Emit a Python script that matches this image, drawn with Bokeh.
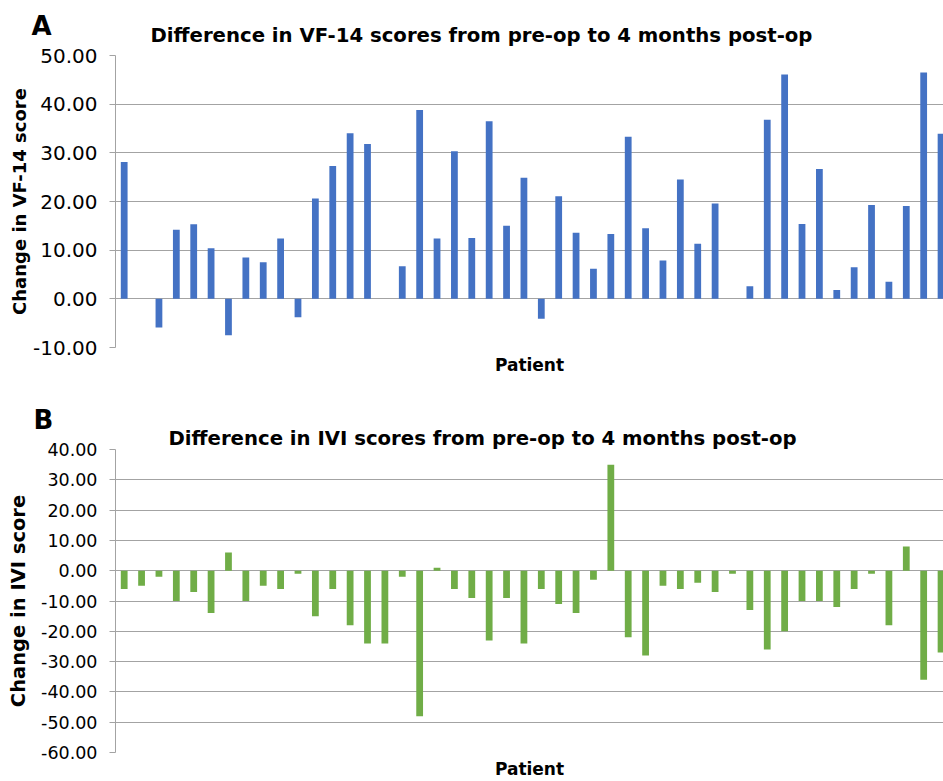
from bokeh.plotting import figure
from bokeh.models import Range1d, FixedTicker, PrintfTickFormatter, Label
from bokeh.layouts import column
from bokeh.embed import file_html
from bokeh.resources import INLINE

nan = float("nan")

# ---- data -------------------------------------------------------------
patients = list(range(1, 49))
vf14_change = [28.1, nan, -5.9, 14.2, 15.3, 10.4, -7.5, 8.5, 7.5, 12.4,
               -3.8, 20.6, 27.3, 34.0, 31.8, nan, 6.7, 38.8, 12.4, 30.3,
               12.5, 36.5, 15.0, 24.9, -4.1, 21.1, 13.6, 6.2, 13.3, 33.3,
               14.5, 7.9, 24.5, 11.3, 19.6, nan, 2.6, 36.8, 46.1, 15.4,
               26.7, 1.8, 6.5, 19.3, 3.5, 19.1, 46.5, 33.9]
ivi_change = [-6, -5, -2, -10, -7, -14, 6, -10, -5, -6,
              -1, -15, -6, -18, -24, -24, -2, -48, 1, -6,
              -9, -23, -9, -24, -6, -11, -14, -3, 35, -22,
              -28, -5, -6, -4, -7, -1, -13, -26, -20, -10,
              -10, -12, -6, -1, -18, 8, -36, -27]
vf14_ticks = [-10, 0, 10, 20, 30, 40, 50]
ivi_ticks = [-60, -50, -40, -30, -20, -10, 0, 10, 20, 30, 40]
title_a = "Difference in VF-14 scores from pre-op to 4 months post-op"
title_b = "Difference in IVI scores from pre-op to 4 months post-op"
ylabel_a = "Change in VF-14 score"
ylabel_b = "Change in IVI score"
xlabel = "Patient"

FONT = "DejaVu Sans"
GRID = "#a3a3a3"

# ---- geometry (pixels) -----------------------------------------------
W = 943
LEFT = 115
FRAME_W = W - LEFT
CAT_PX = 17.38
X_END = FRAME_W / CAT_PX


def make_panel(values, ticks, color, fig_top, height, top, frame_h, tick_fs,
               ylabel, ylabel_fs, ylab_standoff, xlab_standoff, title, letter,
               title_px, title_base, letter_px, letter_base):
    y0, y1 = ticks[0], ticks[-1]
    p = figure(width=W, height=height, output_backend="svg",
               toolbar_location=None, x_range=Range1d(0, X_END),
               y_range=Range1d(y0, y1),
               min_border_left=LEFT, min_border_right=0,
               min_border_top=top, min_border_bottom=height - top - frame_h)
    p.outline_line_color = None
    p.background_fill_color = "white"
    p.border_fill_color = "white"
    xs = [i - 0.5 for i in patients]
    p.vbar(x=xs, top=values, bottom=0, width=0.39, fill_color=color,
           line_color=None)

    p.xgrid.grid_line_color = None
    p.ygrid.grid_line_color = GRID
    p.ygrid.grid_line_width = 1

    ya = p.yaxis[0]
    ya.ticker = FixedTicker(ticks=ticks)
    ya.formatter = PrintfTickFormatter(format="%.2f")
    ya.axis_line_color = GRID
    ya.major_tick_line_color = GRID
    ya.major_tick_out = 6
    ya.major_tick_in = 0
    ya.minor_tick_line_color = None
    ya.major_label_standoff = 12
    ya.major_label_text_font = FONT
    ya.major_label_text_font_size = tick_fs
    ya.major_label_text_color = "black"
    ya.axis_label = ylabel
    ya.axis_label_text_font = FONT
    ya.axis_label_text_font_style = "bold"
    ya.axis_label_text_font_size = ylabel_fs
    ya.axis_label_text_color = "black"
    ya.axis_label_standoff = ylab_standoff

    xa = p.xaxis[0]
    xa.ticker = FixedTicker(ticks=[])
    xa.axis_line_color = None
    xa.major_tick_line_color = None
    xa.minor_tick_line_color = None
    xa.axis_label = xlabel
    xa.axis_label_text_font = FONT
    xa.axis_label_text_font_style = "bold"
    xa.axis_label_text_font_size = "17px"
    xa.axis_label_text_color = "black"
    xa.axis_label_standoff = xlab_standoff

    ypx = frame_h / (y1 - y0)
    frame_top = fig_top + top

    def to_x(px):
        return (px - LEFT) / CAT_PX

    def to_y(base):
        return y1 + (frame_top - base) / ypx

    # labels live in the "above" side panel so that they are not clipped
    p.add_layout(Label(x=to_x(letter_px), y=to_y(letter_base), text=letter,
                       text_font=FONT, text_font_style="bold",
                       text_font_size="26px", text_color="black",
                       text_baseline="alphabetic", text_align="left"), "above")
    p.add_layout(Label(x=to_x(title_px), y=to_y(title_base), text=title,
                       text_font=FONT, text_font_style="bold",
                       text_font_size="19.7px", text_color="black",
                       text_baseline="alphabetic", text_align="left"), "above")
    return p


pa = make_panel(vf14_change, vf14_ticks, "#4472C4", fig_top=0, height=380,
                top=55, frame_h=292, tick_fs="20px", ylabel=ylabel_a,
                ylabel_fs="18px", ylab_standoff=0, xlab_standoff=7,
                title=title_a, letter="A",
                title_px=150, title_base=35, letter_px=31, letter_base=25)
pb = make_panel(ivi_change, ivi_ticks, "#70AD47", fig_top=380, height=401,
                top=69, frame_h=305, tick_fs="17.5px", ylabel=ylabel_b,
                ylabel_fs="19.5px", ylab_standoff=8, xlab_standoff=6,
                title=title_b, letter="B",
                title_px=168, title_base=438, letter_px=33, letter_base=419)

layout = column(pa, pb, spacing=0)
open("out.html", "w").write(file_html(layout, INLINE))
